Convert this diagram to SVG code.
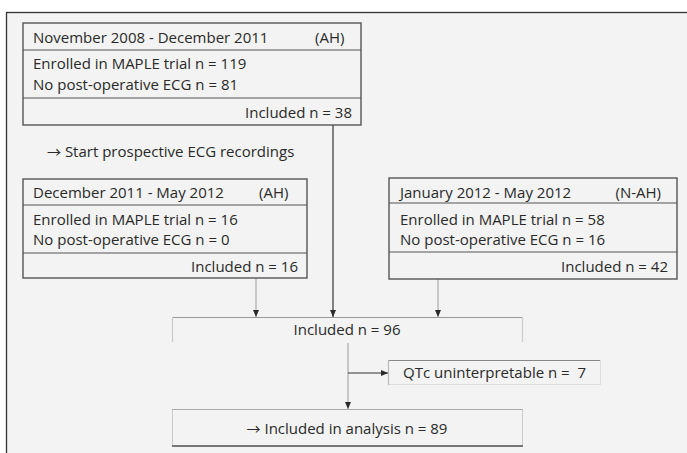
<svg xmlns="http://www.w3.org/2000/svg" width="687" height="453" viewBox="0 0 687 453">
<defs>
<style>
text{font-family:"Open Sans","Liberation Sans",sans-serif;font-size:15px;fill:#2a2a2a}
.arr{font-family:"Noto Sans CJK SC","DejaVu Sans",sans-serif;font-size:14px}
.box{fill:none;stroke:#555;stroke-width:1.4}
.div{stroke:#555;stroke-width:1.2}
.r{text-anchor:end}
.m{text-anchor:middle}
.dark{stroke:#333;stroke-width:1.2;fill:none}
.grey{stroke:#aaa;stroke-width:1.2;fill:none}
</style>
<marker id="ah" markerUnits="userSpaceOnUse" markerWidth="8" markerHeight="8" viewBox="0 0 8 8" refX="7" refY="4" orient="auto">
<path d="M0,1 L7,4 L0,7 Z" fill="#2a2a2a"/>
</marker>
</defs>
<rect width="687" height="453" fill="#ffffff"/>
<rect x="6.5" y="12.5" width="700" height="460" fill="#f2f3f2" stroke="#333" stroke-width="1.3"/>

<g id="connectors">
<line class="dark" x1="333" y1="125" x2="333" y2="317" marker-end="url(#ah)"/>
<line class="grey" x1="256" y1="278" x2="256" y2="317" marker-end="url(#ah)"/>
<line class="grey" x1="438" y1="279" x2="438" y2="317" marker-end="url(#ah)"/>
<line class="grey" x1="348" y1="343" x2="348" y2="409" stroke="#bbb" marker-end="url(#ah)"/>
<line class="dark" x1="348" y1="373" x2="388" y2="373" marker-end="url(#ah)"/>
</g>

<g id="node-ah1">
<rect class="box" x="23" y="23" width="338" height="102"/>
<line class="div" x1="23" y1="50" x2="361" y2="50"/>
<line class="div" x1="23" y1="98" x2="361" y2="98"/>
<text x="33" y="43">November 2008 - December 2011</text>
<text x="315" y="43">(AH)</text>
<text x="33" y="69">Enrolled in MAPLE trial n = 119</text>
<text x="33" y="90">No post-operative ECG n = 81</text>
<text class="r" x="352" y="118">Included n = 38</text>
</g>

<g id="note">
<text x="47" y="157"><tspan class="arr">→</tspan> Start prospective ECG recordings</text>
</g>

<g id="node-ah2">
<rect class="box" x="23" y="179" width="284" height="99"/>
<line class="div" x1="23" y1="205" x2="307" y2="205"/>
<line class="div" x1="23" y1="253" x2="307" y2="253"/>
<text x="33" y="198">December 2011 - May 2012</text>
<text x="259" y="198">(AH)</text>
<text x="33" y="225">Enrolled in MAPLE trial n = 16</text>
<text x="33" y="245">No post-operative ECG n = 0</text>
<text class="r" x="298" y="272">Included n = 16</text>
</g>

<g id="node-nah">
<rect class="box" x="389" y="178" width="288" height="101"/>
<line class="div" x1="389" y1="203" x2="677" y2="203"/>
<line class="div" x1="389" y1="252" x2="677" y2="252"/>
<text x="400" y="198">January 2012 - May 2012</text>
<text class="r" x="661" y="198">(N-AH)</text>
<text x="400" y="225">Enrolled in MAPLE trial n = 58</text>
<text x="400" y="245">No post-operative ECG n = 16</text>
<text class="r" x="668" y="272">Included n = 42</text>
</g>

<g id="node-included96">
<line x1="172" y1="317.5" x2="522" y2="317.5" stroke="#999" stroke-width="1.2"/>
<line x1="172.5" y1="317" x2="172.5" y2="342" stroke="#ccc" stroke-width="1.2"/>
<line x1="522.5" y1="317" x2="522.5" y2="342" stroke="#ccc" stroke-width="1.2"/>
<text class="m" x="347" y="335">Included n = 96</text>
</g>

<g id="node-qtc">
<rect x="388.5" y="360.5" width="212" height="24" fill="none" stroke="#ddd" stroke-width="1"/>
<line x1="388" y1="360.5" x2="600" y2="360.5" stroke="#888" stroke-width="1.2"/>
<line x1="388.5" y1="360" x2="388.5" y2="385" stroke="#bbb" stroke-width="1.2"/>
<text x="403" y="378" xml:space="preserve">QTc uninterpretable n =  7</text>
</g>

<g id="node-analysis">
<rect x="172.5" y="409.5" width="350" height="36" fill="none" stroke="#ccc" stroke-width="1"/>
<line x1="172" y1="409.5" x2="523" y2="409.5" stroke="#aaa" stroke-width="1.2"/>
<line x1="172" y1="446" x2="523" y2="446" stroke="#777" stroke-width="2"/>
<text class="m" x="347" y="434"><tspan class="arr">→</tspan> Included in analysis n = 89</text>
</g>
</svg>
